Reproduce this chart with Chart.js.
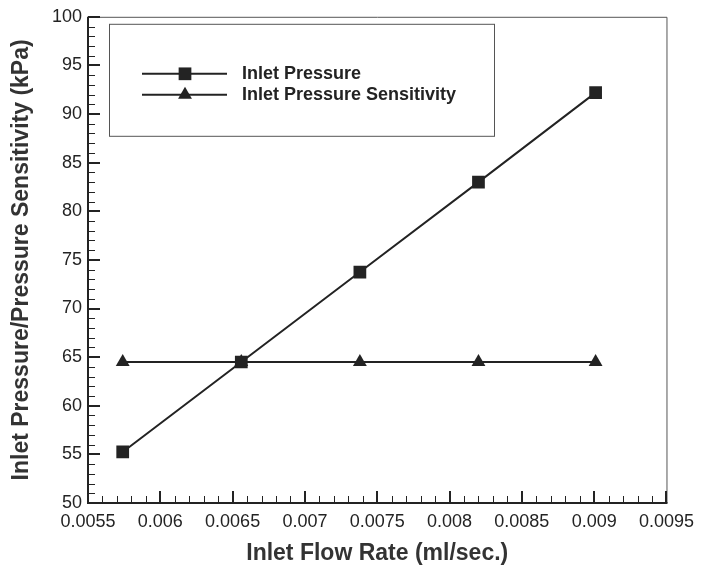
<!DOCTYPE html>
<html>
<head>
<meta charset="utf-8">
<script src="https://cdn.jsdelivr.net/npm/chart.js@4/dist/chart.umd.min.js"></script>
<style>
  html, body { margin: 0; padding: 0; background: #fff; }
  #wrap { width: 702px; height: 570px; }
</style>
</head>
<body>
<div id="wrap"><canvas id="flowChart" width="702" height="570"></canvas></div>
<script>
const flowRates = [0.00574, 0.00656, 0.00738, 0.0082, 0.00901];
const inletPressure = [55.25, 64.5, 73.75, 83.0, 92.2];
const pressureSensitivity = [64.5, 64.5, 64.5, 64.5, 64.5];
const seriesNames = ['Inlet Pressure', 'Inlet Pressure Sensitivity'];
const xTitle = 'Inlet Flow Rate (ml/sec.)';
const yTitle = 'Inlet Pressure/Pressure Sensitivity (kPa)';

const FONT = '"Liberation Sans", Arial, sans-serif';
const INK = '#232323';

function toPoints(xs, ys) {
    return xs.map((x, i) => ({ x: x, y: ys[i] }));
}

// frame and inward tick marks (major + 4 minor)
const framePlugin = {
    id: 'frame',
    afterDatasetsDraw(chart) {
        const ctx = chart.ctx;
        const a = chart.chartArea;
        ctx.save();
        // thin top / right
        ctx.strokeStyle = '#555';
        ctx.lineWidth = 1;
        ctx.beginPath();
        ctx.moveTo(a.left, a.top + 0.5);
        ctx.lineTo(a.right + 0.5, a.top + 0.5);
        ctx.lineTo(a.right + 0.5, a.bottom);
        ctx.stroke();
        // heavy left / bottom
        ctx.strokeStyle = INK;
        ctx.lineWidth = 2;
        ctx.beginPath();
        ctx.moveTo(a.left, a.top);
        ctx.lineTo(a.left, a.bottom);
        ctx.lineTo(a.right + 1, a.bottom);
        ctx.stroke();

        const xs = chart.scales.x, ys = chart.scales.y;
        const drawTicks = (scale, horiz) => {
            const vals = scale.ticks.map(t => t.value);
            const step = vals[1] - vals[0];
            vals.forEach((v, i) => {
                for (let k = 0; k < 5; k++) {
                    const tv = v + k * step / 5;
                    if (i === vals.length - 1 && k > 0) break;
                    const p = scale.getPixelForValue(tv);
                    const len = k === 0 ? 12 : 7;
                    ctx.lineWidth = k === 0 ? 2 : 1;
                    ctx.beginPath();
                    if (horiz) {
                        const px = Math.round(p) + (k === 0 ? 0 : 0.5);
                        ctx.moveTo(px, a.bottom);
                        ctx.lineTo(px, a.bottom - len);
                    } else {
                        const py = Math.round(p) + (k === 0 ? 0 : 0.5);
                        ctx.moveTo(a.left, py);
                        ctx.lineTo(a.left + len, py);
                    }
                    ctx.stroke();
                }
            });
        };
        ctx.strokeStyle = INK;
        drawTicks(xs, true);
        drawTicks(ys, false);
        ctx.restore();
    }
};

// boxed legend inside the plot
const boxLegend = {
    id: 'boxLegend',
    afterDraw(chart) {
        const ctx = chart.ctx;
        const a = chart.chartArea;
        const bx = a.left + 21, by = a.top + 7, bw = 385, bh = 112;
        ctx.save();
        ctx.strokeStyle = '#555';
        ctx.lineWidth = 1;
        ctx.strokeRect(bx + 0.5, by + 0.5, bw, bh);
        chart.data.datasets.forEach((ds, i) => {
            const y = by + 50 + i * 21;
            ctx.strokeStyle = ds.borderColor;
            ctx.lineWidth = 2;
            ctx.beginPath();
            ctx.moveTo(bx + 33, y);
            ctx.lineTo(bx + 118, y);
            ctx.stroke();
            ctx.fillStyle = ds.pointBackgroundColor;
            Chart.helpers.drawPoint(ctx, {
                pointStyle: ds.pointStyle,
                radius: ds.pointRadius,
                rotation: 0,
                borderWidth: 0
            }, bx + 76, y);
            ctx.fillStyle = INK;
            ctx.font = 'bold 18px ' + FONT;
            ctx.textBaseline = 'middle';
            ctx.fillText(ds.label, bx + 133, y);
        });
        ctx.restore();
    }
};

const ctx = document.getElementById('flowChart').getContext('2d');
new Chart(ctx, {
    type: 'line',
    data: {
        datasets: [{
            label: seriesNames[0],
            data: toPoints(flowRates, inletPressure),
            borderColor: INK,
            borderWidth: 2,
            pointStyle: 'rect',
            pointRadius: 9,
            pointBackgroundColor: INK,
            pointBorderWidth: 0,
            fill: false,
            tension: 0
        }, {
            label: seriesNames[1],
            data: toPoints(flowRates, pressureSensitivity),
            borderColor: INK,
            borderWidth: 2,
            pointStyle: 'triangle',
            pointRadius: 8,
            pointBackgroundColor: INK,
            pointBorderWidth: 0,
            fill: false,
            tension: 0
        }]
    },
    options: {
        responsive: false,
        animation: false,
        layout: {
            padding: { top: 13, right: 35, left: 0, bottom: 0 }
        },
        plugins: {
            legend: { display: false },
            tooltip: { enabled: false }
        },
        scales: {
            x: {
                type: 'linear',
                min: 0.0055,
                max: 0.0095,
                grid: { display: false, drawTicks: false },
                border: { display: false },
                ticks: {
                    stepSize: 0.0005,
                    padding: 8,
                    color: INK,
                    font: { family: FONT, size: 18 },
                    maxRotation: 0,
                    callback: v => String(parseFloat(v.toFixed(4)))
                },
                title: {
                    display: true,
                    text: xTitle,
                    color: '#333',
                    font: { family: FONT, size: 23, weight: 'bold' },
                    padding: { top: 0, bottom: 3 }
                },
                afterFit(scale) { scale.height = 67; }
            },
            y: {
                min: 50,
                max: 100,
                grid: { display: false, drawTicks: false },
                border: { display: false },
                ticks: {
                    stepSize: 5,
                    padding: 6,
                    color: INK,
                    font: { family: FONT, size: 18 }
                },
                title: {
                    display: true,
                    text: yTitle,
                    color: '#333',
                    font: { family: FONT, size: 23, weight: 'bold' },
                    padding: { top: 8, bottom: 0 }
                },
                afterFit(scale) { scale.width = 88; }
            }
        }
    },
    plugins: [framePlugin, boxLegend]
});
</script>
</body>
</html>
